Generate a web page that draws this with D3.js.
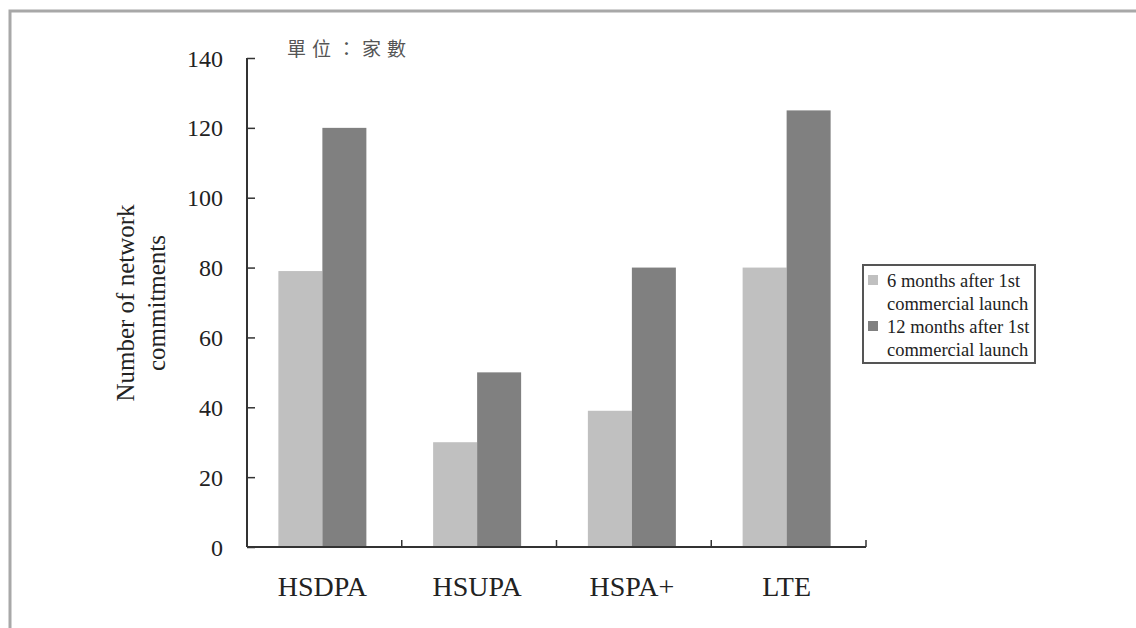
<!DOCTYPE html>
<html>
<head>
<meta charset="utf-8">
<script src="https://cdn.jsdelivr.net/npm/d3@7/dist/d3.min.js"></script>
<style>
  html, body { margin: 0; padding: 0; background: #fff; }
  svg { display: block; }
</style>
</head>
<body>
<div id="chart"></div>
<script>
const categories = ["HSDPA", "HSUPA", "HSPA+", "LTE"];
const seriesNames = ["6 months after 1st commercial launch", "12 months after 1st commercial launch"];
const sixMonths = [79, 30, 39, 80];
const twelveMonths = [120, 50, 80, 125];
const yTicks = [0, 20, 40, 60, 80, 100, 120, 140];
const legendLines = [["6 months after 1st", "commercial launch"], ["12 months after 1st", "commercial launch"]];

const W = 1136, H = 628;
const serif = "'Liberation Serif', 'Times New Roman', serif";
const colors = ["#c0c0c0", "#808080"];

const svg = d3.select("#chart").append("svg")
  .attr("width", W).attr("height", H);

// outer frame (runs off the right and bottom edges)
svg.append("rect")
  .attr("x", 10).attr("y", 11)
  .attr("width", W + 20).attr("height", H + 20)
  .attr("fill", "none").attr("stroke", "#a8a8a8").attr("stroke-width", 3);

const plotL = 247, plotR = 866, plotT = 58, plotB = 547;

const x = d3.scaleBand().domain(categories).range([plotL, plotR]);
const y = d3.scaleLinear().domain([0, 140]).range([plotB, plotT]);
const barW = 44;

const rows = categories.map((c, i) => ({ c, vals: [sixMonths[i], twelveMonths[i]] }));

const groups = svg.append("g").selectAll("g").data(rows).join("g")
  .attr("transform", d => `translate(${x(d.c) + x.bandwidth() / 2 - barW - 2},0)`);
groups.selectAll("rect").data(d => d.vals).join("rect")
  .attr("x", (d, i) => i * barW)
  .attr("y", d => y(d))
  .attr("width", barW)
  .attr("height", d => plotB - y(d))
  .attr("fill", (d, i) => colors[i]);

// y axis
const yAxis = svg.append("g").attr("transform", `translate(${plotL},0)`)
  .call(d3.axisRight(y).tickValues(yTicks).tickSize(8).tickFormat(""));
yAxis.select(".domain").attr("stroke", "#333").attr("stroke-width", 2).attr("d", `M0,${plotT}V${plotB}`);
yAxis.selectAll(".tick line").attr("stroke", "#333").attr("stroke-width", 1.5);

svg.append("g").selectAll("text").data(yTicks).join("text")
  .attr("x", plotL - 24).attr("y", d => y(d) + 8.5)
  .attr("text-anchor", "end")
  .attr("font-family", serif).attr("font-size", 24).attr("fill", "#222")
  .text(d => d);

// x axis
svg.append("line")
  .attr("x1", plotL).attr("x2", plotR).attr("y1", plotB).attr("y2", plotB)
  .attr("stroke", "#333").attr("stroke-width", 2);
const bounds = categories.map(c => x(c)).concat([plotR]);
svg.append("g").selectAll("line").data(bounds.slice(1)).join("line")
  .attr("x1", d => d).attr("x2", d => d)
  .attr("y1", plotB).attr("y2", plotB - 7)
  .attr("stroke", "#333").attr("stroke-width", 1.5);

svg.append("g").selectAll("text").data(categories).join("text")
  .attr("x", d => x(d) + x.bandwidth() / 2 - 2)
  .attr("y", 596)
  .attr("text-anchor", "middle")
  .attr("font-family", serif).attr("font-size", 28).attr("fill", "#222")
  .text(d => d);

// y axis title
const yTitle = svg.append("text")
  .attr("transform", "translate(134,303) rotate(-90)")
  .attr("text-anchor", "middle")
  .attr("font-family", serif).attr("font-size", 25).attr("fill", "#222");
yTitle.append("tspan").attr("x", 0).attr("dy", 0).text("Number of network");
yTitle.append("tspan").attr("x", 0).attr("dy", 31).text("commitments");

// unit note
svg.append("text")
  .attr("x", 287).attr("y", 56)
  .attr("font-family", "'Noto Sans CJK TC', sans-serif")
  .attr("font-size", 19).attr("letter-spacing", 6).attr("fill", "#555")
  .text("單位：家數");

// legend
const lg = svg.append("g").attr("transform", "translate(863,265)");
lg.append("rect").attr("width", 172).attr("height", 98)
  .attr("fill", "#fff").attr("stroke", "#555").attr("stroke-width", 2);
seriesNames.forEach((name, i) => {
  const y0 = 16 + i * 46;
  lg.append("rect").attr("x", 5).attr("y", y0 - 6).attr("width", 10).attr("height", 10)
    .attr("fill", colors[i]);
  const t = lg.append("text")
    .attr("font-family", serif).attr("font-size", 18.5).attr("fill", "#222");
  legendLines[i].forEach((line, j) => {
    t.append("tspan").attr("x", 24).attr("y", y0 + 6 + j * 23).text(line);
  });
});
</script>
</body>
</html>
